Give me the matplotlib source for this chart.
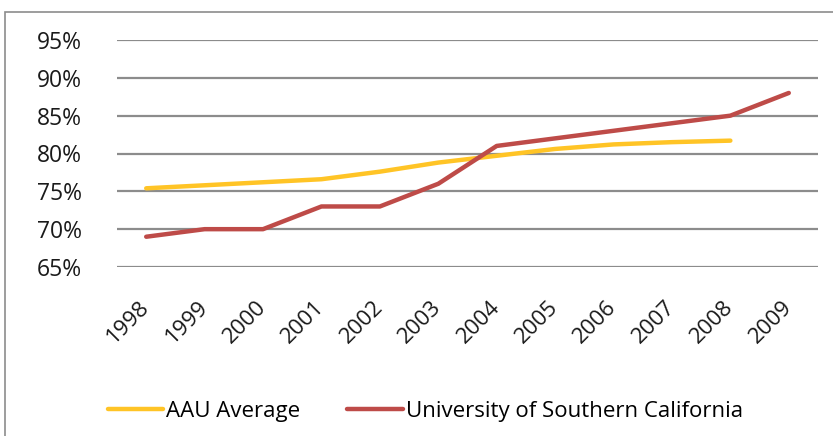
import matplotlib.pyplot as plt
from matplotlib.patches import Rectangle

years = ['1998', '1999', '2000', '2001', '2002', '2003', '2004', '2005', '2006', '2007', '2008', '2009']
aau = [75.4, 75.8, 76.2, 76.6, 77.6, 78.8, 79.7, 80.6, 81.2, 81.5, 81.7]
usc = [69, 70, 70, 73, 73, 76, 81, 82, 83, 84, 85, 88]
yticks = [65, 70, 75, 80, 85, 90, 95]

plt.rcParams['font.family'] = ['Open Sans', 'DejaVu Sans']

fig = plt.figure(figsize=(8.33, 4.36), dpi=100)
ax = fig.add_axes([117 / 833, 1 - 267 / 436, 701 / 833, 227 / 436])

# outer chart frame (partly cropped in the original)
fig.patches.append(Rectangle((5 / 833, -0.1), 1.2, 1 - 12 / 436 + 0.1,
                             transform=fig.transFigure, fill=False,
                             edgecolor='#8c8c8c', linewidth=1.2))

x = list(range(len(years)))
ax.plot(x[:len(aau)], aau, color='#FFC426', linewidth=3.2,
        solid_capstyle='round', label='AAU Average', zorder=3)
ax.plot(x, usc, color='#BE4B48', linewidth=3.2,
        solid_capstyle='round', label='University of Southern California', zorder=4)

ax.set_xlim(-0.5, len(years) - 0.5)
ax.set_ylim(65, 95)
ax.set_yticks(yticks)
ax.set_yticklabels([f'{v}%' for v in yticks], fontsize=16.5, color='#1a1a1a')
ax.set_xticks(x)
ax.set_xticklabels(years, rotation=45, ha='right', va='center',
                   rotation_mode='anchor', fontsize=16, color='#1a1a1a')
ax.tick_params(axis='x', length=0, pad=27)
ax.tick_params(axis='y', length=0, pad=25)

ax.grid(axis='y', color='#8c8c8c', linewidth=1.6)
ax.set_axisbelow(True)
for s in ax.spines.values():
    s.set_visible(False)

ax.legend(loc='upper center', bbox_to_anchor=(0.44, -0.5),
          ncol=2, frameon=False, fontsize=16, handlelength=2.5,
          handletextpad=0.15, columnspacing=2.1)

fig.savefig('out.png', dpi=100)
